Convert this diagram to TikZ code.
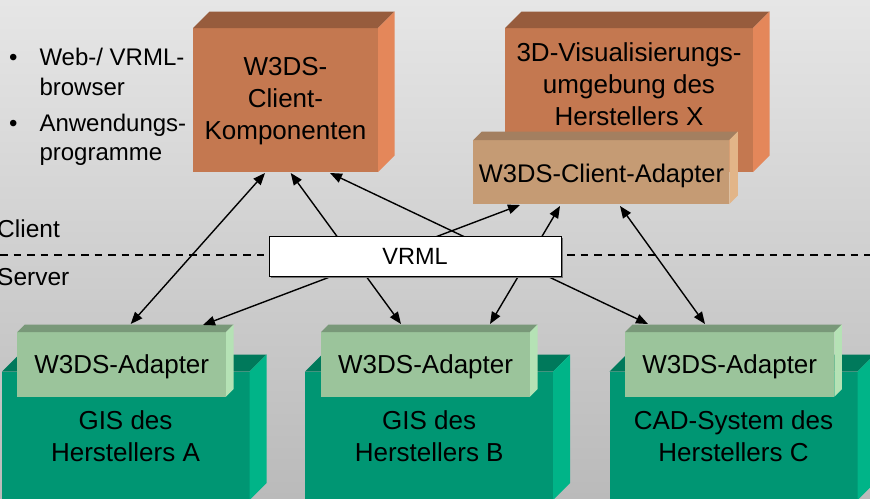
\documentclass[tikz,border=0pt]{standalone}
\usepackage{fontspec}
\setmainfont{Liberation Sans}
\usetikzlibrary{arrows.meta,calc,shadows}

% face colours of the blocks
\definecolor{bgTop}{RGB}{230,230,230}
\definecolor{bgBot}{RGB}{186,186,186}
\definecolor{orFront}{RGB}{196,120,80}
\definecolor{orTop}{RGB}{151,92,61}
\definecolor{orSide}{RGB}{228,135,90}
\definecolor{tanFront}{RGB}{197,155,116}
\definecolor{tanTop}{RGB}{163,127,96}
\definecolor{tanSide}{RGB}{226,181,136}
\definecolor{grFront}{RGB}{0,150,115}
\definecolor{grTop}{RGB}{0,121,91}
\definecolor{grSide}{RGB}{0,180,136}
\definecolor{lgFront}{RGB}{155,196,155}
\definecolor{lgTop}{RGB}{121,152,121}
\definecolor{lgSide}{RGB}{181,226,181}

% top and right faces of a block whose front face is node #1
\newcommand\blocksides[4]{%
  \fill[#3] (#1.north west) -- ++(#2,-#2) -- ($(#1.north east)+(#2,-#2)$) -- (#1.north east) -- cycle;
  \fill[#4] (#1.north east) -- ++(#2,-#2) -- ($(#1.south east)+(#2,-#2)$) -- (#1.south east) -- cycle;
}

\tikzset{
  face/.style={inner sep=0pt, outer sep=0pt, anchor=north west},
  boxtext/.style={font=\fontsize{26}{32}\selectfont, align=center, inner sep=0pt},
  listtext/.style={font=\fontsize{24}{30}\selectfont, inner sep=0pt},
  sidelabel/.style={font=\fontsize{24.5}{30}\selectfont, inner sep=0pt, anchor=base west},
  conn/.style={{Triangle[length=12pt,width=9.5pt]}-{Triangle[length=12pt,width=9.5pt]}, line width=1.4pt},
  sepline/.style={line width=2pt, dash pattern=on 7.7pt off 5.8pt},
  vrmlbox/.style={draw=black, line width=0.8pt, fill=white, inner sep=0pt,
    minimum width=292pt, minimum height=40pt, font=\fontsize{23.5}{28}\selectfont,
    drop shadow={shadow xshift=1.6pt, shadow yshift=-1.6pt, fill=black!55, opacity=1}}
}

\begin{document}
\begin{tikzpicture}[x=1pt,y=-1pt]
\useasboundingbox (0,0) rectangle (870,498);
\shade[top color=bgTop, bottom color=bgBot] (0,0) rectangle (870,498);

% client / server boundary
\coordinate (sepL) at (0,254.5);
\coordinate (sepR) at (870,254.5);
\draw[sepline] (sepL) -- (sepR);
\node[sidelabel] (cl) at (-3,237.3) {Client};
\node[sidelabel] (sv) at (-3,285.7) {Server};

% client side blocks
\node[face, fill=orFront, minimum width=185pt, minimum height=144pt] (kc) at (193,28) {};
\blocksides{kc}{16.5}{orTop}{orSide}
\node[face, fill=orFront, minimum width=248pt, minimum height=144pt] (vx) at (505,28) {};
\blocksides{vx}{16.5}{orTop}{orSide}
\node[face, fill=tanFront, minimum width=256pt, minimum height=64pt] (ca) at (473.3,140) {};
\blocksides{ca}{8.5}{tanTop}{tanSide}

% server side blocks with their adapters
\node[face, fill=grFront, minimum width=247.5pt, minimum height=128.5pt] (gA) at (2,371.7) {};
\blocksides{gA}{17}{grTop}{grSide}
\node[face, fill=lgFront, minimum width=208.7pt, minimum height=64.7pt] (aA) at (17.3,332) {};
\blocksides{aA}{7.5}{lgTop}{lgSide}
\node[face, fill=grFront, minimum width=248pt, minimum height=128.5pt] (gB) at (305,371.7) {};
\blocksides{gB}{17}{grTop}{grSide}
\node[face, fill=lgFront, minimum width=209pt, minimum height=64.7pt] (aB) at (321,332) {};
\blocksides{aB}{7.5}{lgTop}{lgSide}
\node[face, fill=grFront, minimum width=248pt, minimum height=128.5pt] (gC) at (609.5,371.7) {};
\blocksides{gC}{17}{grTop}{grSide}
\node[face, fill=lgFront, minimum width=209.3pt, minimum height=64.7pt] (aC) at (625,332) {};
\blocksides{aC}{7.5}{lgTop}{lgSide}

% block labels
\node[boxtext] (kcT) at (285.5,101.3) {W3DS-\\Client-\\Komponenten};
\node[boxtext] (vxT) at (629,84.5) {3D-Visualisierungs-\\umgebung des\\Herstellers X};
\node[boxtext, font=\fontsize{25.5}{30}\selectfont, anchor=base] (caT) at (601.5,182) {W3DS-Client-Adapter};
\node[boxtext, anchor=base] (aAT) at (121.7,373.3) {W3DS-Adapter};
\node[boxtext, anchor=base] (aBT) at (425.6,373.3) {W3DS-Adapter};
\node[boxtext, anchor=base] (aCT) at (729.7,373.3) {W3DS-Adapter};
\node[boxtext] (gAT) at (125.5,435.8) {GIS des\\Herstellers A};
\node[boxtext] (gBT) at (429.2,435.8) {GIS des\\Herstellers B};
\node[boxtext] (gCT) at (733.5,435.8) {CAD-System des\\Herstellers C};

% bullet list
\node[listtext, anchor=base] (bu1) at (13.3,65.7) {•};
\node[listtext, anchor=base west] (l1) at (39.3,65.7) {Web-/ VRML-};
\node[listtext, anchor=base west] (l2) at (39.3,95.7) {browser};
\node[listtext, anchor=base] (bu2) at (13.3,131.7) {•};
\node[listtext, anchor=base west] (l3) at (39.3,131.7) {Anwendungs-};
\node[listtext, anchor=base west] (l4) at (39.3,160.7) {programme};

% connections between client and server components
\draw[conn] ($(kc.south west)+(72,1)$) -- ($(aA.north west)+(113.4,-8)$);
\draw[conn] ($(kc.south west)+(97.7,1)$) -- ($(aB.north west)+(80,-8)$);
\draw[conn] ($(kc.south west)+(137,1)$) -- ($(aC.north west)+(23,-8)$);
\draw[conn] ($(aA.north west)+(185.7,-7)$) -- ($(ca.south west)+(46.7,1)$);
\draw[conn] ($(aB.north west)+(169,-8)$) -- ($(ca.south west)+(86.7,2)$);
\draw[conn] ($(ca.south west)+(146.7,2)$) -- ($(aC.north west)+(80,-8)$);

% exchange format
\node[vrmlbox] (vrml) at (415,256) {VRML};
\end{tikzpicture}
\end{document}
